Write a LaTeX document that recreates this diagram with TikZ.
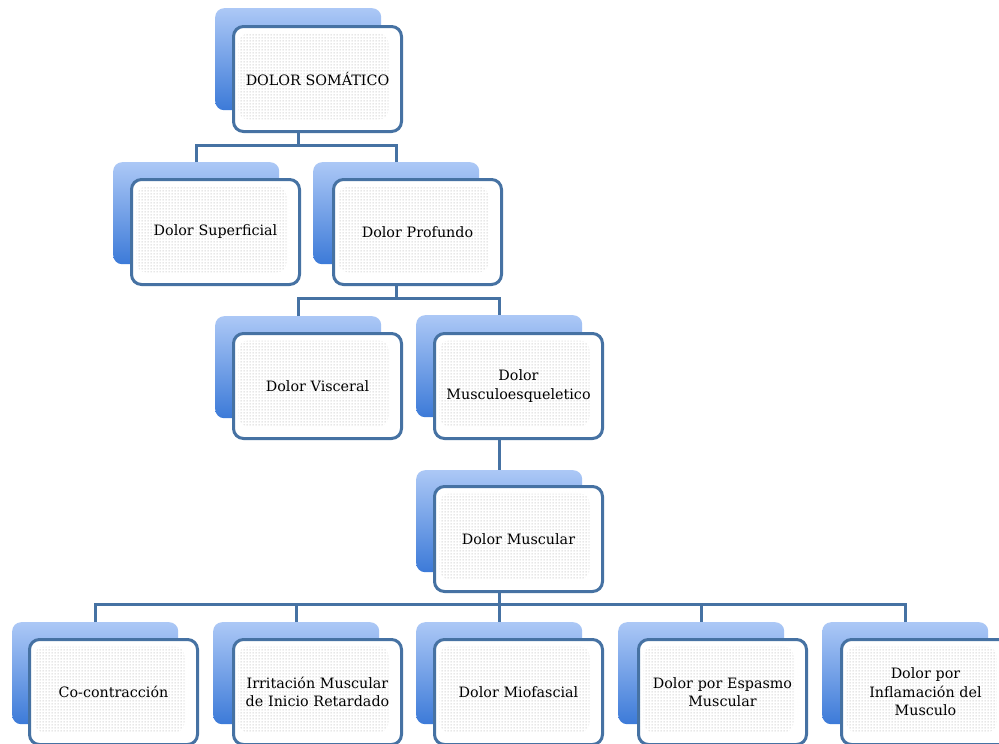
\documentclass[tikz,border=0pt]{standalone}
\usepackage{fontspec}
\setmainfont{DejaVu Serif}
\usetikzlibrary{patterns,calc}
\definecolor{edgeblue}{RGB}{70,114,163}
\definecolor{tabtop}{RGB}{172,200,246}
\definecolor{tabbot}{RGB}{60,122,216}
% fine halftone texture for the card interiors
\pgfdeclarepatternformonly{halftone}{\pgfpointorigin}{\pgfpoint{3pt}{3pt}}{\pgfpoint{3pt}{3pt}}{%
  \pgfpathrectangle{\pgfpoint{0.9pt}{0.9pt}}{\pgfpoint{1.2pt}{1.2pt}}\pgfusepath{fill}}
\tikzset{
  tab/.style={rounded corners=9pt, top color=tabtop, bottom color=tabbot,
    minimum width=166pt, minimum height=102pt, anchor=north west, inner sep=0pt},
  card/.style={rounded corners=10pt, draw=edgeblue, line width=3pt, fill=white,
    minimum width=168pt, minimum height=105pt, anchor=north west, align=center,
    inner sep=0pt, text width=164pt, font=\fontsize{14.3}{18.5}\selectfont,
    path picture={\fill[pattern=halftone, pattern color=black!22]
      ($(path picture bounding box.north west)+(5pt,-7pt)$) rectangle
      ($(path picture bounding box.south east)+(-13pt,12pt)$);}},
  conn/.style={draw=edgeblue, line width=3pt},
}
\begin{document}
\begin{tikzpicture}[x=1pt,y=-1pt]
\clip (0,0) rectangle (999,744);
\fill[white] (0,0) rectangle (999,744);

% back tabs
\node[tab] (somT) at (215,8) {};
\node[tab] (supT) at (113,162) {};
\node[tab] (proT) at (313,162) {};
\node[tab] (visT) at (215,316) {};
\node[tab] (mesT) at (416,315) {};
\node[tab] (musT) at (416,470) {};
\node[tab] (cocT) at (12,622) {};
\node[tab] (irrT) at (213,622) {};
\node[tab] (mioT) at (416,622) {};
\node[tab] (espT) at (618,622) {};
\node[tab] (infT) at (822,622) {};

% connectors
\coordinate (j1) at ($(somT |- 0,130)+(0,15)$);
\draw[conn] (somT.center |- 0,130) -- (j1) -| (supT.north);
\draw[conn] (j1) -| (proT.north);
\coordinate (j2) at ($(proT |- 0,285)+(0,13)$);
\draw[conn] (proT.center |- 0,285) -- (j2) -| (visT.north);
\draw[conn] (j2) -| (mesT.north);
\draw[conn] (mesT.center |- 0,437) -- (musT.north);
\coordinate (j3) at ($(musT |- 0,588)+(0,16)$);
\draw[conn] (musT.center |- 0,588) -- (j3) -| (cocT.north);
\draw[conn] (j3) -| (irrT.north);
\draw[conn] (j3) -| (mioT.north);
\draw[conn] (j3) -| (espT.north);
\draw[conn] (j3) -| (infT.north);

% front cards
\node[card] (som) at (232,25) {DOLOR SOMÁTICO};
\node[card] (sup) at (130,178) {Dolor Superficial};
\node[card] (pro) at (332,178) {Dolor Profundo};
\node[card] (vis) at (232,332) {Dolor Visceral};
\node[card] (mes) at (433,332) {Dolor\\Musculoesqueletico};
\node[card] (mus) at (433,485) {Dolor Muscular};
\node[card] (coc) at (28,638) {Co-contracción};
\node[card] (irr) at (232,638) {Irritación Muscular\\de Inicio Retardado};
\node[card] (mio) at (433,638) {Dolor Miofascial};
\node[card] (esp) at (637,638) {Dolor por Espasmo\\Muscular};
\node[card] (inf) at (840,638) {Dolor por\\Inflamación del\\Musculo};
\end{tikzpicture}
\end{document}
